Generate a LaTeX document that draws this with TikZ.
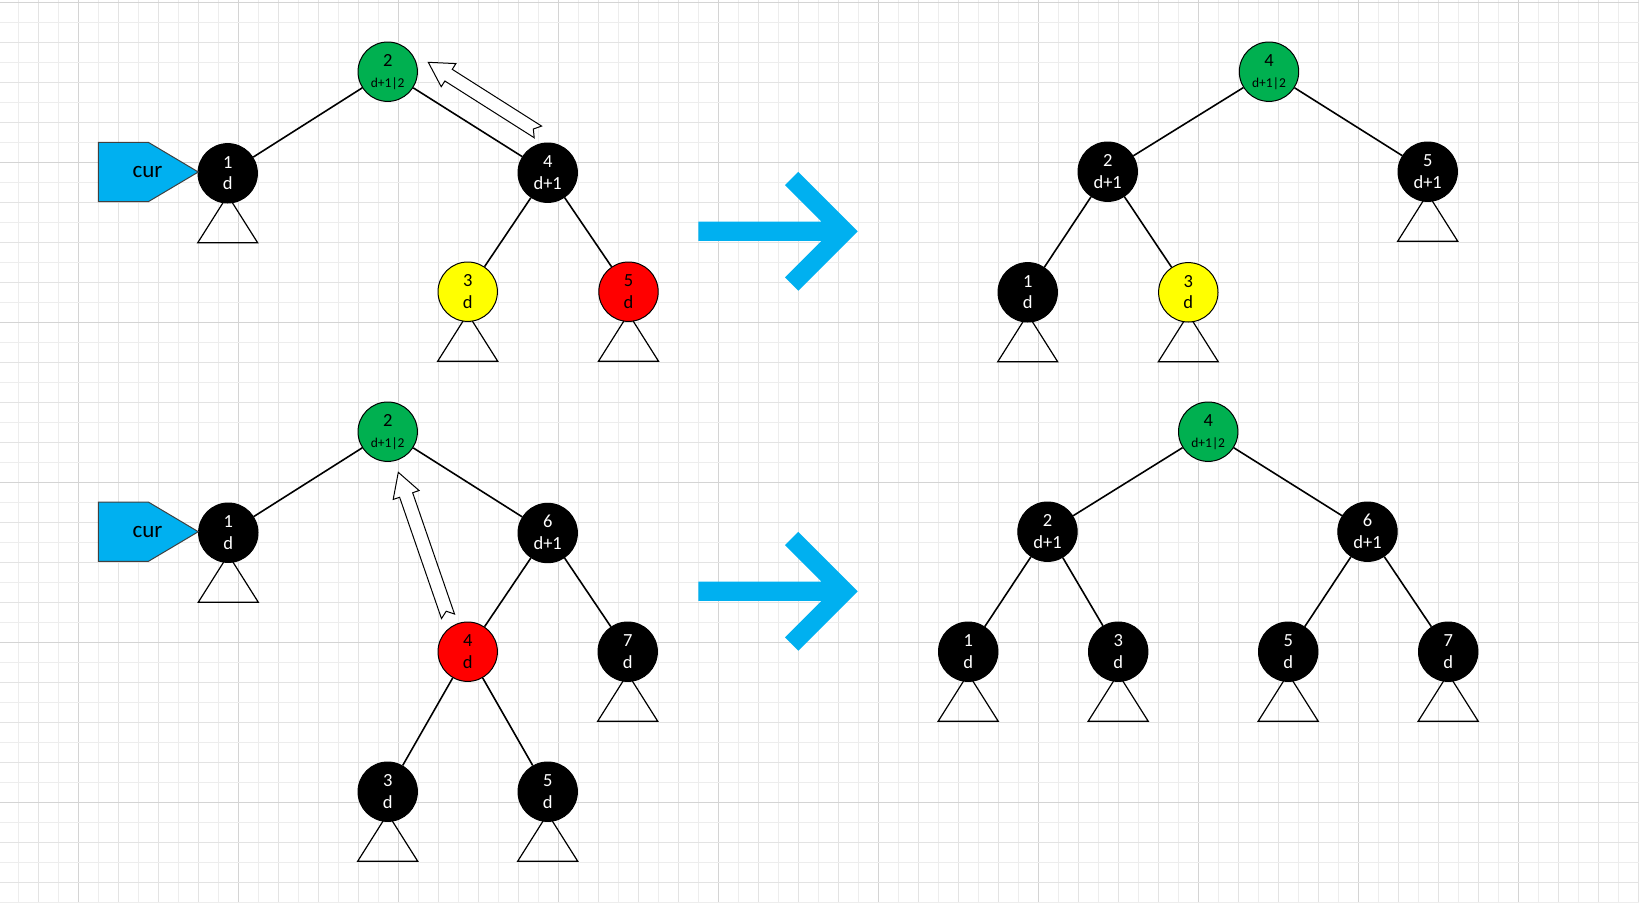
\documentclass[tikz,border=0pt]{standalone}
\usepackage{fontspec}
\setmainfont{Carlito}
\usetikzlibrary{calc}
\pgfdeclarelayer{bg}
\pgfsetlayers{bg,main}
\definecolor{gr}{HTML}{00B050}
\definecolor{rd}{HTML}{FF0000}
\definecolor{yl}{HTML}{FFFF00}
\definecolor{cyanb}{HTML}{00B0F0}
\tikzset{
 gl/.style={draw=black!7, line width=1pt},
 gm/.style={draw=black!11, line width=1pt},
 gd/.style={draw=black!17, line width=1pt},
 circ/.style={circle, draw=black, line width=1pt, minimum size=59.4pt, inner sep=0pt},
 lbl/.style={inner sep=0pt, font=\fontsize{18.5}{20}\selectfont},
 slbl/.style={inner sep=0pt, font=\fontsize{13.5}{15}\selectfont},
 edge/.style={line width=1.6pt},
 tri/.style={line width=1.2pt, line join=miter},
 harrow/.style={draw=black, fill=white, line width=1pt, line join=miter},
 bigarr/.style={fill=cyanb},
 curst/.style={draw=black!75, fill=cyanb, line width=1pt},
 curlbl/.style={inner sep=0pt, font=\fontsize{23}{26}\selectfont}
}
% tree node: name, x, y, extra style, text colour, line 1, line 2
\newcommand\tn[7]{%
 \node[circ,#4] (#1) at (#2,#3) {};
 \node[lbl,text=#5,anchor=base] (#1a) at ($(#1)+(0,-5.3)$) {#6};
 \node[lbl,text=#5,anchor=base] (#1b) at ($(#1)+(0,16.3)$) {#7};}
% green node: name, x, y, extra style, line 1
\newcommand\gn[5]{%
 \node[circ,fill=gr,#4] (#1) at (#2,#3) {};
 \node[lbl,anchor=base] (#1a) at ($(#1)+(0,-5.5)$) {#5};
 \node[slbl,anchor=base] (#1b) at ($(#1)+(0,15.5)$) {d+1|2};}
% subtree triangle: node, half width, apex offset, base offset
\newcommand\sub[4]{\draw[tri] ($(#1)+(0,#3)$) -- ($(#1)+(-#2,#4)$) -- ($(#1)+(#2,#4)$) -- cycle;}
% hollow notched arrow: tip, tail
\newcommand\hollow[2]{%
 \coordinate (hh) at ($(#1)!24pt!(#2)$);
 \draw[harrow] (#1) -- ($(hh)!13.7pt!90:(#2)$) -- ($(hh)!6.9pt!90:(#2)$)
   -- ($(#2)!6.9pt!-90:(#1)$) -- ($(#2)!5.4pt!(#1)$) -- ($(#2)!6.9pt!90:(#1)$)
   -- ($(hh)!6.9pt!-90:(#2)$) -- ($(hh)!13.7pt!-90:(#2)$) -- cycle;}
% big blue arrow at centre height y
\newcommand\bigarrow[1]{%
 \fill[bigarr] (698.3,{#1-9.6}) -- (821.5,{#1-9.6}) -- (785,{#1-46.1}) -- (798.3,{#1-59.4})
   -- (857.7,#1) -- (798.3,{#1+59.4}) -- (785,{#1+46.1}) -- (821.5,{#1+9.6})
   -- (698.3,{#1+9.6}) -- cycle;}
% cur pointer: name, centre y
\newcommand\curshape[2]{%
 \draw[curst] (98.3,{#2-29.7}) -- (148.3,{#2-29.7}) -- (198.3,#2) -- (148.3,{#2+29.7})
   -- (98.3,{#2+29.7}) -- cycle;
 \node[curlbl] (#1) at (147.5,#2) {cur};}
\begin{document}
\begin{tikzpicture}[x=1pt,y=-1pt]
\useasboundingbox (0,0) rectangle (1639,903);
\begin{pgfonlayer}{bg}
 \fill[white] (0,0) rectangle (1639,903);
 \foreach \i in {0,...,81} \draw[gl] ({18.3+20*\i},0) -- ++(0,903);
 \foreach \i in {0,...,40} \draw[gm] ({38.3+40*\i},0) -- ++(0,903);
 \foreach \i in {0,...,10} \draw[gd] ({78.3+160*\i},0) -- ++(0,903);
 \foreach \i in {0,...,45} \draw[gl] (0,{2.3+20*\i}) -- ++(1639,0);
 \foreach \i in {0,...,22} \draw[gm] (0,{2.3+40*\i}) -- ++(1639,0);
 \foreach \i in {0,...,5} \draw[gd] (0,{2.3+160*\i}) -- ++(1639,0);
\end{pgfonlayer}

% ---------- tree A (top left)
\gn{A2}{387.7}{71.7}{}{2}
\tn{A1}{227.7}{173.3}{fill=black}{white}{1}{d}
\tn{A4}{547.7}{172.7}{fill=black}{white}{4}{d+1}
\tn{A3}{467.7}{291.7}{fill=yl}{black}{3}{d}
\tn{A5}{628.5}{291.7}{fill=rd}{black}{5}{d}
\draw[edge] (A2) -- (A1);
\draw[edge] (A2) -- (A4);
\draw[edge] (A4) -- (A3);
\draw[edge] (A4) -- (A5);
\curshape{curA}{172}
\coordinate (hA1) at (428.3,62.3);
\coordinate (hA2) at (537.9,131.9);
\hollow{hA1}{hA2}

% ---------- tree B (top right)
\gn{B4}{1269}{71.7}{}{4}
\tn{B2}{1107.7}{171.7}{fill=black}{white}{2}{d+1}
\tn{B5}{1427.7}{171.7}{fill=black}{white}{5}{d+1}
\tn{B1}{1027.7}{292.3}{fill=black}{white}{1}{d}
\tn{B3}{1188.3}{292.3}{fill=yl}{black}{3}{d}
\draw[edge] (B4) -- (B2);
\draw[edge] (B4) -- (B5);
\draw[edge] (B2) -- (B1);
\draw[edge] (B2) -- (B3);

% ---------- tree C (bottom left)
\gn{C2}{387.7}{431.7}{}{2}
\tn{C1}{228.3}{532.7}{fill=black}{white}{1}{d}
\tn{C6}{547.7}{533}{fill=black}{white}{6}{d+1}
\tn{C4}{467.7}{651.7}{fill=rd}{black}{4}{d}
\tn{C7}{627.7}{651.7}{fill=black}{white}{7}{d}
\tn{C3}{387.7}{791.7}{fill=black}{white}{3}{d}
\tn{C5}{547.7}{791.7}{fill=black}{white}{5}{d}
\draw[edge] (C2) -- (C1);
\draw[edge] (C2) -- (C6);
\draw[edge] (C6) -- (C4);
\draw[edge] (C6) -- (C7);
\draw[edge] (C4) -- (C3);
\draw[edge] (C4) -- (C5);
\curshape{curC}{531.7}
\coordinate (hC1) at (398.3,472.3);
\coordinate (hC2) at (448,616.3);
\hollow{hC1}{hC2}

% ---------- tree D (bottom right)
\gn{D4}{1208.2}{431.7}{}{4}
\tn{D2}{1047.5}{531.7}{fill=black}{white}{2}{d+1}
\tn{D6}{1367.5}{531.7}{fill=black}{white}{6}{d+1}
\tn{D1}{968.2}{651.7}{fill=black}{white}{1}{d}
\tn{D3}{1118.2}{651.7}{fill=black}{white}{3}{d}
\tn{D5}{1288.2}{651.7}{fill=black}{white}{5}{d}
\tn{D7}{1448.2}{651.7}{fill=black}{white}{7}{d}
\draw[edge] (D4) -- (D2);
\draw[edge] (D4) -- (D6);
\draw[edge] (D2) -- (D1);
\draw[edge] (D2) -- (D3);
\draw[edge] (D6) -- (D5);
\draw[edge] (D6) -- (D7);

% ---------- subtree triangles (behind the nodes)
\begin{pgfonlayer}{bg}
 \foreach \n in {A1,A3,A5,B5,B1,B3,C1,C7,C3,C5,D1,D3,D5,D7} {\sub{\n}{30}{22}{69.5}}
\end{pgfonlayer}

% ---------- big blue arrows
\bigarrow{231.3}
\bigarrow{591.3}
\end{tikzpicture}
\end{document}
